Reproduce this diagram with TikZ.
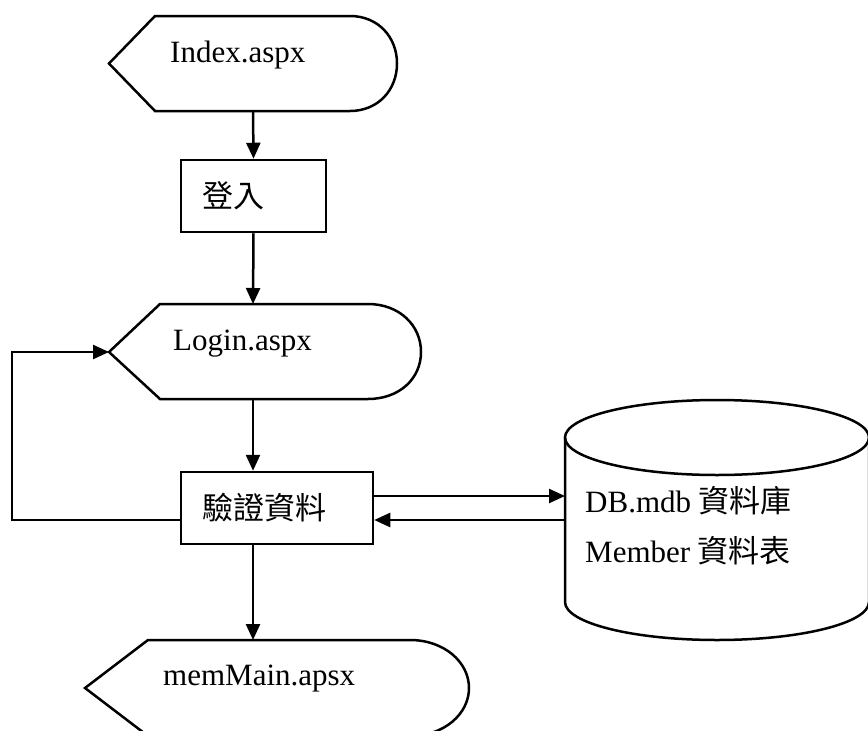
\documentclass[tikz,border=0pt]{standalone}
\usepackage{fontspec}
\setmainfont{Liberation Serif}
\newfontfamily\cjk{Noto Sans CJK TC}
\usetikzlibrary{arrows.meta}

\tikzset{
  line/.style={line width=2.5pt, line join=miter},
  procbox/.style={draw, line width=2.5pt, minimum height=72pt, inner xsep=21pt, inner ysep=0pt, align=left},
  label/.style={anchor=base west, inner sep=0pt},
  >={Triangle[length=16pt,width=14pt]}
}

\begin{document}
\begin{tikzpicture}[x=1pt, y=-1pt, font=\fontsize{31pt}{50pt}\selectfont]
\useasboundingbox (0,0) rectangle (868,731);

%% display shapes
\draw [line] (109,63.5) -- (155,16) -- (350,16) .. controls (378,16) and (397,37) .. (397,63.5) .. controls (397,90) and (378,111) .. (350,111) -- (155,111) -- cycle; % Index
\draw [line] (109,352) -- (160,304) -- (368,304) .. controls (399,304) and (421,325) .. (421,352) .. controls (421,379) and (399,399) .. (368,399) -- (160,399) -- cycle; % Login
\draw [line] (85,688) -- (148,640) -- (410,640) .. controls (444,640) and (469,662) .. (469,688) .. controls (469,714) and (444,736) .. (410,736) -- (148,736) -- cycle; % memMain

%% database cylinder
\draw [line] (717,437.5) ellipse [x radius=152, y radius=37.5]; % top
\draw [line] (565,437.5) -- (565,602) .. controls (565,623) and (633,640) .. (717,640) .. controls (801,640) and (869,623) .. (869,602) -- (869,437.5); % body

%% labeling
\node [label] (index) at (170,62) {Index.aspx};
\node [label] (login) at (173,350) {Login.aspx};
\node [label] (main) at (163,685) {memMain.apsx};
\node [label] (db) at (585,512) {DB.mdb {\cjk 資料庫}};
\node [label] (member) at (585,562) {Member {\cjk 資料表}};

%% process boxes
\node [procbox, text width=103pt] (signin) at (253.5,196) {\cjk 登入};
\node [procbox, text width=150pt] (check) at (277,508) {\cjk 驗證資料};

%% connection points
\coordinate (indexS) at (253,111);
\coordinate (loginN) at (253,304);
\coordinate (loginS) at (253,399);
\coordinate (loginW) at (109,352);
\coordinate (mainN) at (253,640);
\coordinate (dbin) at (565,496);
\coordinate (dbout) at (565,520);

%% arrows
\draw [line, ->] (indexS) -- (signin.north);
\draw [line, ->] (signin.south) -- (loginN);
\draw [line, ->] (loginS) -- (loginS |- check.north);
\draw [line, ->] (check.south -| loginS) -- (mainN);
\draw [line, ->] ([yshift=12pt]check.east) -- (dbin); % to database
\draw [line, ->] (dbout) -- ([yshift=-12pt]check.east); % back from database
\draw [line, ->] ([yshift=-12pt]check.west) -- ++(-168,0) |- (loginW); % back to login

\end{tikzpicture}
\end{document}
